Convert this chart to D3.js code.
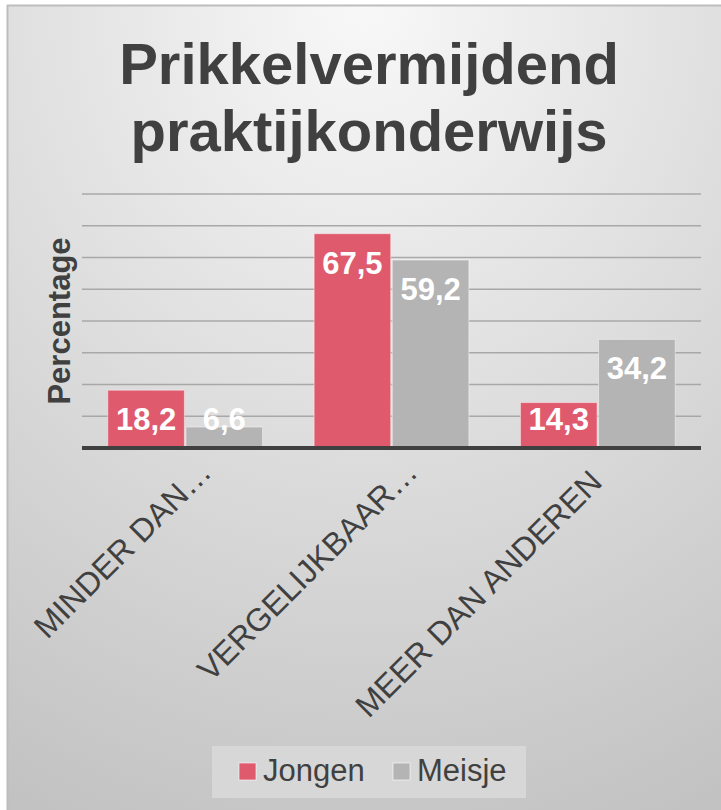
<!DOCTYPE html>
<html>
<head>
<meta charset="utf-8">
<script src="https://cdn.jsdelivr.net/npm/d3@7"></script>
<style>
  body { margin: 0; background: #fff; }
  text { font-family: "Liberation Sans", Arial, sans-serif; }
</style>
</head>
<body>
<div id="chart"></div>
<script>
// data
var categories = ["MINDER DAN\u2026", "VERGELIJKBAAR\u2026", "MEER DAN ANDEREN"];
var series = ["Jongen", "Meisje"];
var jongen = [18.2, 67.5, 14.3];
var meisje = [6.6, 59.2, 34.2];
var yTicks = [10, 20, 30, 40, 50, 60, 70, 80];
var titleLines = ["Prikkelvermijdend", "praktijkonderwijs"];

var colors = { Jongen: "#e05a6d", Meisje: "#b4b4b4" };
var values = { Jongen: jongen, Meisje: meisje };

var W = 721, H = 810;

var svg = d3.select("#chart")
    .append("svg")
    .attr("width", W)
    .attr("height", H);

// background gradient
var defs = svg.append("defs");
var grad = defs.append("radialGradient")
    .attr("id", "bg")
    .attr("cx", "50%").attr("cy", "0%")
    .attr("r", "110%");
grad.append("stop").attr("offset", "0%").attr("stop-color", "#f8f8f8");
grad.append("stop").attr("offset", "100%").attr("stop-color", "#c2c2c2");

svg.append("rect")
    .attr("x", 7).attr("y", 5)
    .attr("width", W - 7).attr("height", H - 5)
    .attr("fill", "url(#bg)");
svg.append("path")
    .attr("d", "M7.5," + H + "V5.5H" + W)
    .attr("fill", "none")
    .attr("stroke", "#bdbdbd")
    .attr("stroke-width", 2);

// title
svg.append("text")
    .attr("text-anchor", "middle")
    .attr("font-size", 58)
    .attr("font-weight", "bold")
    .attr("fill", "#404040")
    .selectAll("tspan")
    .data(titleLines)
    .enter()
    .append("tspan")
    .attr("x", 369)
    .attr("y", function(d, i) { return 84 + i * 67; })
    .text(function(d) { return d; });

var x0 = 82, x1 = W - 20, y0 = 448, y1 = 194;

var x = d3.scaleBand()
    .domain(categories)
    .range([x0, x1])
    .paddingInner(0.25)
    .paddingOuter(0.125);

var xs = d3.scaleBand()
    .domain(series)
    .range([0, x.bandwidth()])
    .paddingInner(0.02);

var y = d3.scaleLinear()
    .domain([0, 80])
    .range([y0, y1]);

// gridlines
svg.append("g")
    .selectAll("line")
    .data(yTicks)
    .enter()
    .append("line")
    .attr("x1", x0).attr("x2", x1)
    .attr("y1", function(d) { return y(d); })
    .attr("y2", function(d) { return y(d); })
    .attr("stroke", "#a8a8a8")
    .attr("stroke-width", 1.5);

// bars
var groups = svg.append("g")
    .selectAll("g")
    .data(categories)
    .enter()
    .append("g")
    .attr("transform", function(d) { return "translate(" + x(d) + ",0)"; });

groups.selectAll("rect")
    .data(function(d, i) { return series.map(function(s) { return { s: s, v: values[s][i] }; }); })
    .enter()
    .append("rect")
    .attr("x", function(d) { return xs(d.s); })
    .attr("y", function(d) { return y(d.v); })
    .attr("width", xs.bandwidth())
    .attr("height", function(d) { return y0 - y(d.v); })
    .attr("fill", function(d) { return colors[d.s]; })
    .attr("stroke", "rgba(255,255,255,0.45)")
    .attr("stroke-width", 1);

// value labels
groups.selectAll("text")
    .data(function(d, i) { return series.map(function(s) { return { s: s, v: values[s][i] }; }); })
    .enter()
    .append("text")
    .attr("x", function(d) { return xs(d.s) + xs.bandwidth() / 2; })
    .attr("y", function(d) { return Math.min(y(d.v) + 40, y0 - 18); })
    .attr("text-anchor", "middle")
    .attr("font-size", 31)
    .attr("font-weight", "bold")
    .attr("fill", "#fff")
    .text(function(d) { return String(d.v).replace(".", ","); });

// x axis line
svg.append("line")
    .attr("x1", x0).attr("x2", x1)
    .attr("y1", y0).attr("y2", y0)
    .attr("stroke", "#404040")
    .attr("stroke-width", 4);

// category labels (truncated ones sit a bit further right)
svg.append("g")
    .selectAll("text")
    .data(categories)
    .enter()
    .append("text")
    .attr("transform", function(d) {
        var cut = d.slice(-1) === "\u2026";
        var cx = x(d) + x.bandwidth() / 2 + (cut ? 28 : 6);
        var cy = cut ? 474 : 484;
        return "translate(" + cx + "," + cy + ")rotate(-45)";
    })
    .attr("text-anchor", "end")
    .attr("font-size", 32)
    .attr("fill", "#404040")
    .text(function(d) { return d; });

// y axis title
svg.append("text")
    .attr("transform", "translate(70," + (y0 + y1) / 2 + ")rotate(-90)")
    .attr("text-anchor", "middle")
    .attr("font-size", 31)
    .attr("font-weight", "bold")
    .attr("fill", "#404040")
    .text("Percentage");

// legend
var legend = svg.append("g").attr("transform", "translate(212,746)");
legend.append("rect")
    .attr("width", 314).attr("height", 52)
    .attr("fill", "#d9d9d9")
    .attr("fill-opacity", 0.85);

var item = legend.selectAll("g")
    .data(series)
    .enter()
    .append("g")
    .attr("transform", function(d, i) { return "translate(" + (27 + i * 154) + ",17)"; });
item.append("rect")
    .attr("width", 17).attr("height", 17)
    .attr("fill", function(d) { return colors[d]; })
    .attr("stroke", "rgba(255,255,255,0.6)")
    .attr("stroke-width", 1);
item.append("text")
    .attr("x", 24).attr("y", 18)
    .attr("font-size", 31)
    .attr("fill", "#404040")
    .text(function(d) { return d; });
</script>
</body>
</html>
